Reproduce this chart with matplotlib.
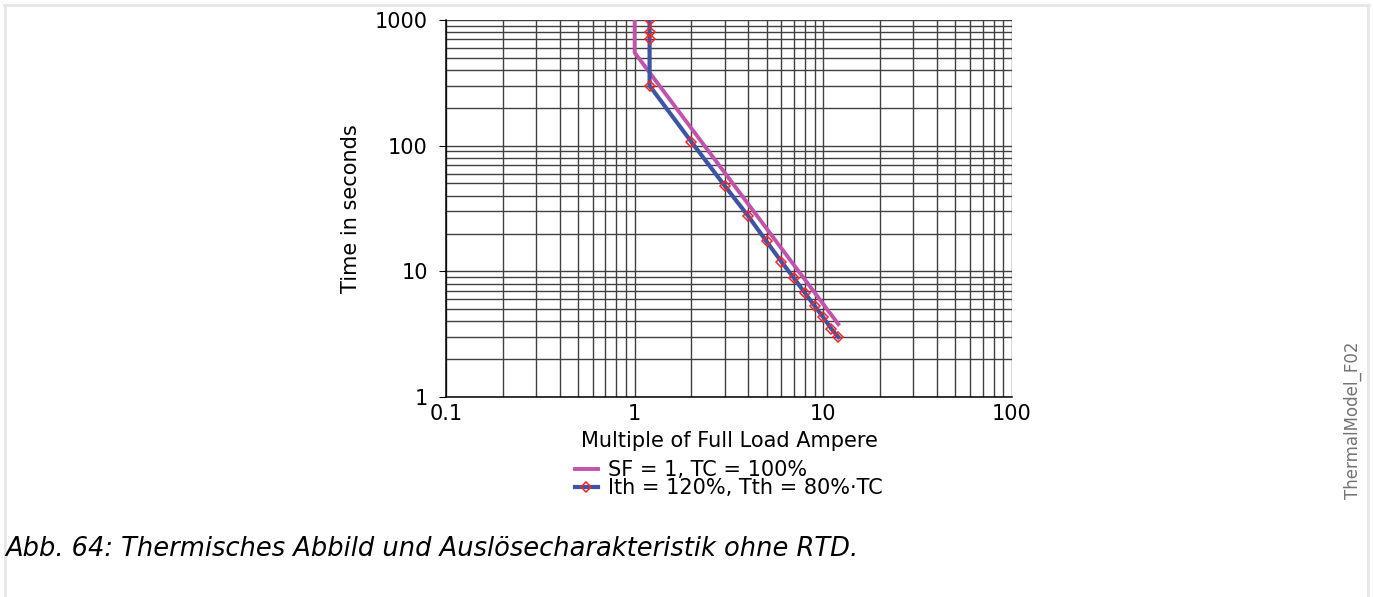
import matplotlib
matplotlib.use("Agg")
import matplotlib.pyplot as plt
from matplotlib.lines import Line2D
from matplotlib.ticker import LogLocator, FixedLocator, FixedFormatter, NullFormatter

# SF = 1, TC = 100%
sf_current = [1.0, 1.0, 12.0]
sf_time = [1000, 550, 3.8]

# Ith = 120%, Tth = 80%·TC
ith_current = [1.2, 1.2, 1.2, 1.2, 2, 3, 4, 5, 6, 7, 8, 9, 10, 11, 12]
ith_time = [1000, 800, 700, 300, 107, 48, 27.5, 17.3, 11.9, 8.8, 6.7, 5.3, 4.3, 3.5, 3.0]

x_ticks = [0.1, 1, 10, 100]
x_labels = ["0.1", "1", "10", "100"]
y_ticks = [1, 10, 100, 1000]
y_labels = ["1", "10", "100", "1000"]

fig = plt.figure(figsize=(13.73, 5.97), dpi=100)
ax = fig.add_axes([0.3248, 0.335, 0.4123, 0.6315])

ax.plot(sf_current, sf_time, color="#c452ac", lw=2.8, label="SF = 1, TC = 100%", zorder=3)
ax.plot(ith_current, ith_time, color="#3e55a6", lw=3, marker="D", markersize=5.2,
        markerfacecolor="none", markeredgecolor="#ff2020", markeredgewidth=1.1,
        label="Ith = 120%, Tth = 80%·TC", zorder=4)

ax.set_xscale("log")
ax.set_yscale("log")
ax.set_xlim(0.1, 100)
ax.set_ylim(1, 1000)

ax.xaxis.set_major_locator(FixedLocator(x_ticks))
ax.xaxis.set_major_formatter(FixedFormatter(x_labels))
ax.yaxis.set_major_locator(FixedLocator(y_ticks))
ax.yaxis.set_major_formatter(FixedFormatter(y_labels))
ax.xaxis.set_minor_locator(LogLocator(base=10, subs=range(2, 10)))
ax.yaxis.set_minor_locator(LogLocator(base=10, subs=range(2, 10)))
ax.xaxis.set_minor_formatter(NullFormatter())
ax.yaxis.set_minor_formatter(NullFormatter())

ax.grid(True, which="both", color="0.25", lw=1.0)
ax.tick_params(which="minor", length=0)
ax.tick_params(axis="x", which="major", length=0, labelsize=15, pad=5)
ax.tick_params(axis="y", which="major", length=5, labelsize=15, pad=8)
for s in ["top", "right"]:
    ax.spines[s].set_visible(False)
ax.spines["left"].set_linewidth(1.1)
ax.spines["bottom"].set_linewidth(1.1)

ax.set_xlabel("Multiple of Full Load Ampere", fontsize=15, labelpad=5)
ax.set_ylabel("Time in seconds", fontsize=15, labelpad=10)

ax.legend(loc="upper center", bbox_to_anchor=(0.5, -0.14), frameon=False, fontsize=15,
          handlelength=1.1, handletextpad=0.5, labelspacing=-0.1, borderpad=0)

fig.text(0.004, 0.08, "Abb. 64: Thermisches Abbild und Auslösecharakteristik ohne RTD.",
         fontsize=18.5, style="italic", ha="left", va="center")
fig.text(0.985, 0.296, "ThermalModel_F02", rotation=90, color="0.45", fontsize=12,
         ha="center", va="center")

frame_col = "#e6e6e6"
fig.add_artist(Line2D([0.003, 0.997], [0.991, 0.991], color=frame_col, lw=2))
fig.add_artist(Line2D([0.0035, 0.0035], [0.0, 0.991], color=frame_col, lw=2))
fig.add_artist(Line2D([0.9965, 0.9965], [0.0, 0.991], color=frame_col, lw=2))

fig.savefig("out.png", dpi=100)
